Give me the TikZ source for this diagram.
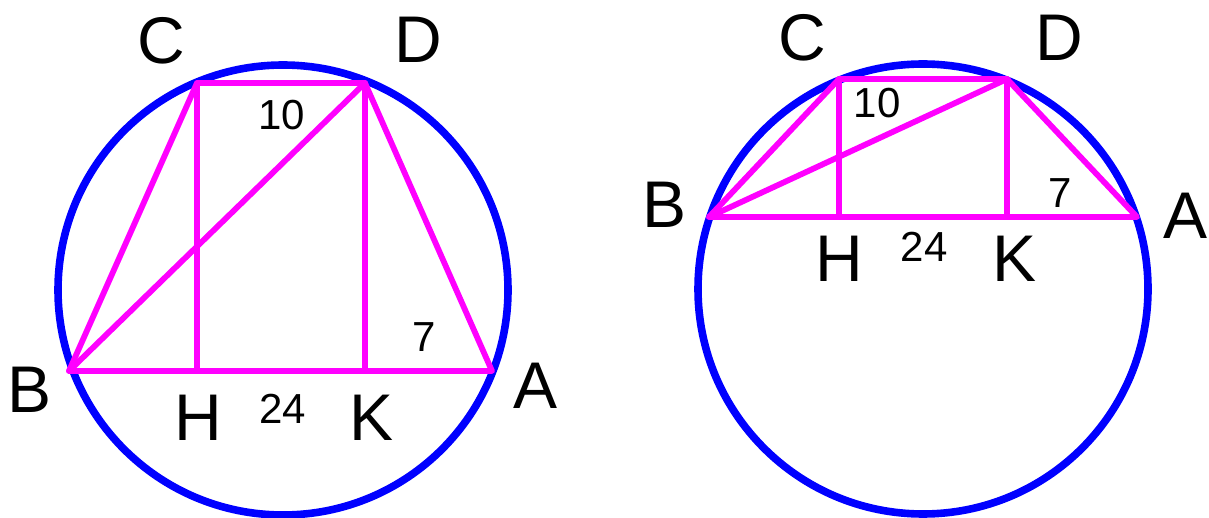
\documentclass[tikz,border=0pt]{standalone}
\usepackage{fontspec}
\setmainfont{Liberation Sans}
\definecolor{circblue}{RGB}{0,0,255}
\definecolor{segmag}{RGB}{255,0,255}
\begin{document}
\begin{tikzpicture}[x=1pt,y=-1pt,
  circ/.style={draw=circblue,line width=7.6pt},
  seg/.style={draw=segmag,line width=5.8pt,line cap=round,line join=round},
  big/.style={font=\fontsize{66}{66}\selectfont,inner sep=0pt},
  num/.style={font=\fontsize{42}{42}\selectfont,inner sep=0pt}]
\useasboundingbox (0,0) rectangle (1209,518);
% ---------- left figure ----------
\coordinate (O1) at (283,290);
\draw[circ] (O1) circle[radius=225pt];
\coordinate (C1) at (197,83);
\coordinate (D1) at (365,83);
\coordinate (B1) at (69,371);
\coordinate (A1) at (492,371);
\coordinate (H1) at (197,371);
\coordinate (K1) at (365,371);
\draw[seg] (B1) -- (A1) -- (D1) -- (C1) -- cycle;
\draw[seg] (B1) -- (D1);
\draw[seg] (C1) -- (H1);
\draw[seg] (D1) -- (K1);
\node[big] (lC) at (161,41) {C};
\node[big] (lD) at (418,40) {D};
\node[big] (lB) at (30,390) {B};
\node[big] (lA) at (536,386) {A};
\node[big] (lH) at (198,418) {H};
\node[big] (lK) at (372,418) {K};
\node[num] (l10) at (282,115) {10};
\node[num] (l7) at (424,337) {7};
\node[num] (l24) at (283,409) {24};
% ---------- right figure ----------
\coordinate (O2) at (923,289);
\draw[circ] (O2) circle[radius=225pt];
\coordinate (C2) at (839,79);
\coordinate (D2) at (1007,79);
\coordinate (B2) at (709,217);
\coordinate (A2) at (1137,217);
\coordinate (H2) at (839,217);
\coordinate (K2) at (1007,217);
\draw[seg] (B2) -- (A2) -- (D2) -- (C2) -- cycle;
\draw[seg] (B2) -- (D2);
\draw[seg] (C2) -- (H2);
\draw[seg] (D2) -- (K2);
\node[big] (rC) at (802,38) {C};
\node[big] (rD) at (1059,38) {D};
\node[big] (rB) at (665,205) {B};
\node[big] (rA) at (1185,216) {A};
\node[big] (rH) at (839,259) {H};
\node[big] (rK) at (1014,259) {K};
\node[num] (r10) at (877,103) {10};
\node[num] (r7) at (1060,193) {7};
\node[num] (r24) at (924,247) {24};
\end{tikzpicture}
\end{document}
